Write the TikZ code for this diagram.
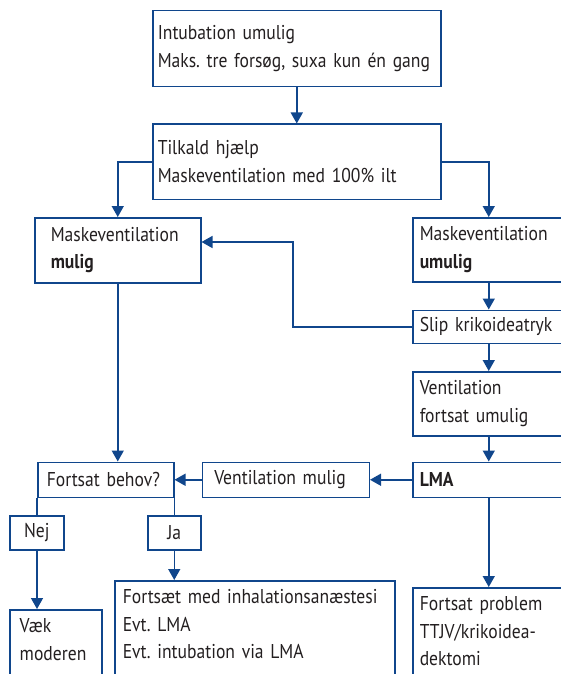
\documentclass[tikz,border=0pt]{standalone}
\usepackage{fontspec}
\setmainfont{PT Sans}[FakeStretch=0.88]
\usepackage{xcolor}
\usepackage{tikz}
\usetikzlibrary{arrows.meta, positioning}
\definecolor{flowblue}{RGB}{16,70,140}
\definecolor{ink}{RGB}{35,31,32}
\frenchspacing
\tikzset{
  box/.style={rectangle, draw=flowblue, line width=1.5pt, anchor=north west, align=left, text=ink, inner xsep=7pt, inner ysep=0pt, font=\fontsize{20}{27.5}\selectfont},
  openbox/.style={box, inner ysep=9pt, text depth=95pt},
  arrow/.style={-{Triangle[length=11pt, width=12pt]}, draw=flowblue, line width=1.5pt},
  link/.style={draw=flowblue, line width=1.5pt},
}

\begin{document}
\begin{tikzpicture}[x=1pt, y=-1pt]
    \useasboundingbox (0,0) rectangle (561,674);
    \clip (0,0) rectangle (561,674);
    % top of the chart
    \node[box, inner xsep=5pt, text width=278pt, minimum height=76pt] (intub) at (152,10) {Intubation umulig\\Maks. tre forsøg, suxa kun én gang};
    \node[box, inner xsep=5pt, text width=278pt, minimum height=75pt, below=36pt of intub] (tilkald) {Tilkald hjælp\\Maskeventilation med 100\% ilt};
    \node[box, inner xsep=16pt, text width=134pt, minimum height=65pt] (mulig) at (34,217) {Maskeventilation\\\textbf{mulig}};
    % right column
    \node[box, text width=138pt, minimum height=64pt] (umulig) at (412,217) {Maskeventilation\\\textbf{umulig}};
    \node[box, text width=138pt, minimum height=33pt, below=27pt of umulig] (slip) {Slip krikoideatryk};
    \node[box, text width=138pt, minimum height=64pt, below=27pt of slip] (ventfort) {Ventilation\\fortsat umulig};
    \node[box, text width=138pt, minimum height=35pt, below=25pt of ventfort] (lma) {\textbf{LMA}};
    \node[openbox, text width=138pt, below=89pt of lma] (problem) {Fortsat problem\\TTJV/krikoidea-\\dektomi};
    % middle row
    \node[box, inner xsep=12pt, text width=143pt, minimum height=35pt, left=42pt of lma] (ventmulig) {Ventilation mulig};
    \node[box, inner xsep=9pt, text width=118pt, minimum height=35pt, left=27pt of ventmulig] (behov) {Fortsat behov?};
    % answers
    \node[box, align=center, text width=40pt, minimum height=34pt] (nej) at (9,515) {Nej};
    \node[box, align=center, text width=39pt, minimum height=34pt] (ja) at (147,515) {Ja};
    \node[openbox, inner xsep=10pt, text width=72pt] (vaek) at (9,609) {Væk\\moderen};
    \node[openbox, inner xsep=8pt, text width=264pt] (fortsaet) at (114,580) {Fortsæt med inhalationsanæstesi\\Evt. LMA\\Evt. intubation via LMA};
    \coordinate (fbturn) at (293,242);

    \draw[arrow] (intub) -- (tilkald);
    \draw[arrow] (tilkald.west) -| (mulig.north);
    \draw[arrow] (tilkald.east) -| (umulig.north);
    \draw[arrow] (umulig) -- (slip);
    \draw[arrow] (slip) -- (ventfort);
    \draw[arrow] (ventfort) -- (lma);
    \draw[arrow] (lma) -- (problem);
    \draw[arrow] (slip.west) -| (fbturn) -- (fbturn -| mulig.east);
    \draw[arrow] (mulig.south) -- (mulig.south |- behov.north);
    \draw[arrow] (lma) -- (ventmulig);
    \draw[arrow] (ventmulig) -- (behov);
    \draw[link] (behov.south west) -- (behov.south west |- nej.north);
    \draw[link] (behov.south east) -- (behov.south east |- ja.north);
    \draw[arrow] (behov.south west |- nej.south) -- (behov.south west |- vaek.north);
    \draw[arrow] (ja.south) -- (ja.south |- fortsaet.north);
\end{tikzpicture}
\end{document}
